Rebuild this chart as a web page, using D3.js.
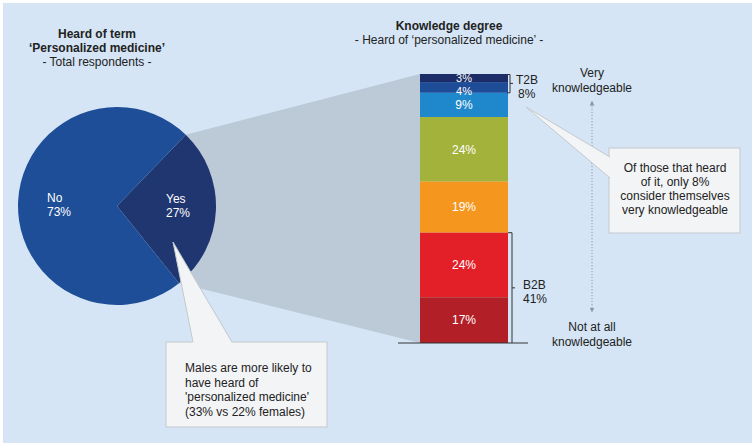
<!DOCTYPE html>
<html>
<head>
<meta charset="utf-8">
<script src="https://cdn.jsdelivr.net/npm/d3@7"></script>
<style>
  html, body { margin: 0; padding: 0; background: #ffffff; }
  svg { display: block; font-family: "Liberation Sans", Arial, Helvetica, sans-serif; }
</style>
</head>
<body>
<svg id="chart" width="756" height="448"></svg>
<script>
// ---- Data ----
const pieLabels = ["Yes", "No"];
const pieValues = [27, 73];
const pieColors = ["#1f3670", "#1d4e97"];

const barLabels = ["Very knowledgeable", "4", "3", "2", "1", "Not knowledgeable", "Not at all knowledgeable"];
const barValues = [3, 4, 9, 24, 19, 24, 17];
const barColors = ["#1b2c66", "#1f4c97", "#1f88cc", "#a3b23b", "#f5961f", "#e32027", "#b21f26"];

const t2bLabel = ["T2B", "8%"];
const b2bLabel = ["B2B", "41%"];

// ---- Setup ----
const svg = d3.select("#chart");
const FS = 12;

// background panel
svg.append("rect").attr("x", 3).attr("y", 3).attr("width", 749).attr("height", 440).attr("fill", "#d5e5f5");

// ---- Pie geometry ----
const cx = 117, cy = 206, r = 99;
const a0 = 44 * Math.PI / 180;
const pie = d3.pie().sort(null).startAngle(a0).endAngle(a0 + 2 * Math.PI);
const arcs = pie(pieValues);
const arc = d3.arc().innerRadius(0).outerRadius(r);

// ---- Bar geometry ----
const barX0 = 420, barX1 = 508;
const y = d3.scaleLinear().domain([0, 100]).range([74, 343]);
let cum = 0;
const segs = barValues.map((v, i) => { const s = { v, i, y0: cum, y1: cum + v }; cum += v; return s; });

// gray projection from Yes slice to bar
const yesArc = arcs[0];
const pt = a => [cx + r * Math.sin(a), cy - r * Math.cos(a)];
const p1 = pt(yesArc.startAngle), p2 = pt(yesArc.endAngle);
svg.append("polygon")
  .attr("points", [p1, [barX0, y(0)], [barX0, y(100)], p2].map(d => d.join(",")).join(" "))
  .attr("fill", "#bccad7");

// pie slices
const g = svg.append("g").attr("transform", `translate(${cx},${cy})`);
g.selectAll("path").data(arcs).join("path").attr("d", arc).attr("fill", (d, i) => pieColors[i]);

// pie labels
const pieLabelPos = [[166, 203], [47, 202]];
arcs.forEach((d, i) => {
  const t = svg.append("text").attr("fill", "#fff").attr("font-size", FS);
  t.append("tspan").attr("x", pieLabelPos[i][0]).attr("y", pieLabelPos[i][1]).text(pieLabels[i]);
  t.append("tspan").attr("x", pieLabelPos[i][0]).attr("y", pieLabelPos[i][1] + 14).text(d.data + "%");
});

// bar segments
svg.selectAll("rect.seg").data(segs).join("rect").attr("class", "seg")
  .attr("x", barX0).attr("width", barX1 - barX0)
  .attr("y", d => y(d.y0)).attr("height", d => y(d.y1) - y(d.y0))
  .attr("fill", d => barColors[d.i]);

// label nudges/sizes for the two thin top segments
const nudge = [0.5, 3.5];
const small = [11, 11];
svg.selectAll("text.seglab").data(segs).join("text").attr("class", "seglab")
  .attr("x", (barX0 + barX1) / 2)
  .attr("y", d => (y(d.y0) + y(d.y1)) / 2 + (nudge[d.i] || 0))
  .attr("dy", "0.36em").attr("text-anchor", "middle").attr("fill", "#fff")
  .attr("font-size", d => small[d.i] || FS).text(d => d.v + "%");

// baseline
svg.append("line").attr("x1", 398).attr("x2", 528).attr("y1", y(100)).attr("y2", y(100))
  .attr("stroke", "#333").attr("stroke-width", 1);

// T2B bracket
const t2bEnd = y(barValues[0] + barValues[1]);
const t2bMid = (y(0) + t2bEnd) / 2;
svg.append("path").attr("d", `M${barX1 - 1},${y(0) + 0.5}H${barX1 + 2}V${t2bEnd}H${barX1 - 1}M${barX1 + 2},${t2bMid}H${barX1 + 5}`)
  .attr("fill", "none").attr("stroke", "#333").attr("stroke-width", 1);
const tt = svg.append("text").attr("fill", "#222").attr("font-size", FS);
tt.append("tspan").attr("x", 516).attr("y", 84).text(t2bLabel[0]);
tt.append("tspan").attr("x", 518).attr("y", 97.5).text(t2bLabel[1]);

// B2B bracket
const b2bStart = y(100 - barValues[5] - barValues[6]);
const b2bMid = (b2bStart + y(100)) / 2;
svg.append("path").attr("d", `M${barX1},${b2bStart}H${barX1 + 4}V${y(100)}M${barX1 + 4},${b2bMid}H${barX1 + 7}`)
  .attr("fill", "none").attr("stroke", "#333").attr("stroke-width", 1);
const bt = svg.append("text").attr("fill", "#222").attr("font-size", FS);
bt.append("tspan").attr("x", 523).attr("y", 289).text(b2bLabel[0]);
bt.append("tspan").attr("x", 523).attr("y", 303).text(b2bLabel[1]);

// knowledge axis arrow
const defs = svg.append("defs");
defs.append("marker").attr("id", "ah").attr("viewBox", "0 0 6 6").attr("refX", 3).attr("refY", 3)
  .attr("markerWidth", 5).attr("markerHeight", 5).attr("orient", "auto-start-reverse")
  .append("path").attr("d", "M0,0L6,3L0,6Z").attr("fill", "#8f99a3");
svg.append("line").attr("x1", 592).attr("x2", 592).attr("y1", 103).attr("y2", 310)
  .attr("stroke", "#8f99a3").attr("stroke-width", 1).attr("stroke-dasharray", "1.2,1.8")
  .attr("marker-start", "url(#ah)").attr("marker-end", "url(#ah)");

function multiText(x, y0, lines, lh, opts) {
  const t = svg.append("text").attr("fill", opts.fill || "#222").attr("font-size", opts.size || FS)
    .attr("text-anchor", opts.anchor || "start").attr("font-weight", opts.weight || "normal");
  lines.forEach((l, i) => {
    const s = t.append("tspan").attr("x", x).attr("y", y0 + i * lh).text(l);
    if (opts.weights) s.attr("font-weight", opts.weights[i]);
  });
  return t;
}
multiText(592, 77, ["Very", "knowledgeable"], 14.5, { anchor: "middle" });
multiText(592, 331, ["Not at all", "knowledgeable"], 14.5, { anchor: "middle" });

// titles
multiText(97, 38, ["Heard of term", "\u2018Personalized medicine\u2019", "- Total respondents -"], 14,
  { anchor: "middle", weights: ["bold", "bold", "normal"] });
multiText(449, 30, ["Knowledge degree", "- Heard of \u2018personalized medicine\u2019 -"], 14,
  { anchor: "middle", weights: ["bold", "normal"] });

// right callout
svg.append("rect").attr("x", 609).attr("y", 148).attr("width", 131).attr("height", 85)
  .attr("fill", "#f3f4f6").attr("stroke", "#c4c9ce").attr("stroke-width", 1);
svg.append("polygon").attr("points", "526,107 610,157 610,178").attr("fill", "#f3f4f6");
svg.append("polyline").attr("points", "610,157 526,107 610,178").attr("fill", "none")
  .attr("stroke", "#c4c9ce").attr("stroke-width", 1);
multiText(675, 172, ["Of those that heard", "of it, only 8%", "consider themselves", "very knowledgeable"], 14,
  { anchor: "middle" });

// left callout
svg.append("rect").attr("x", 166).attr("y", 342).attr("width", 161).attr("height", 85)
  .attr("fill", "#f3f4f6").attr("stroke", "#c4c9ce").attr("stroke-width", 1);
svg.append("polygon").attr("points", "173,242 193,343 232,343").attr("fill", "#f3f4f6");
svg.append("polyline").attr("points", "193,342 173,242 232,342").attr("fill", "none")
  .attr("stroke", "#c4c9ce").attr("stroke-width", 1);
multiText(185, 372, ["Males are more likely to", "have heard of", "'personalized medicine'", "(33% vs 22% females)"], 14.5,
  {});
</script>
</body>
</html>
